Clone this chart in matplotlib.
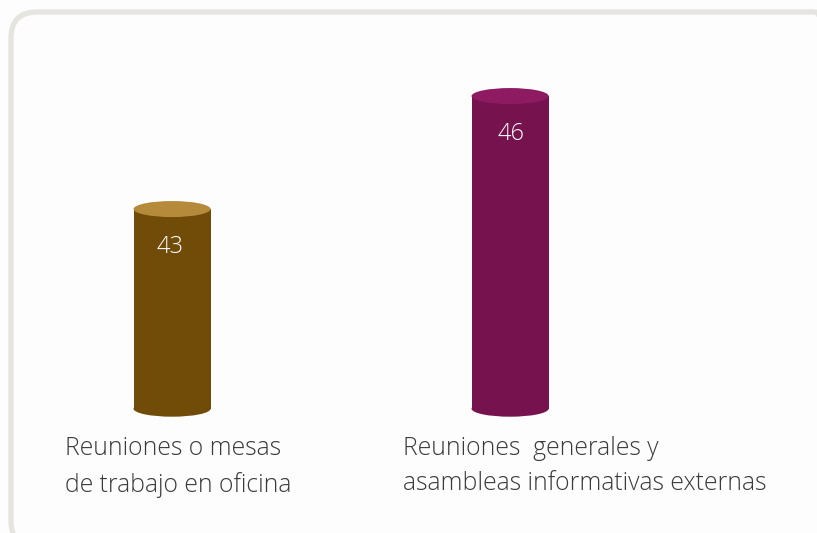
import matplotlib
matplotlib.use("Agg")
import matplotlib.pyplot as plt
from matplotlib.patches import Rectangle, Ellipse, FancyBboxPatch

categorias = ["Reuniones o mesas\nde trabajo en oficina",
              "Reuniones  generales y\nasambleas informativas externas"]
valores = [43, 46]
color_cuerpo = ["#714b08", "#76134f"]
color_tapa = ["#b58a3a", "#8e1b62"]

plt.rcParams['font.family'] = ['Open Sans', 'DejaVu Sans']

fig = plt.figure(figsize=(8.17, 5.33), dpi=100)
fig.patch.set_facecolor("#fdfdfd")

ax = fig.add_axes([0, 0, 1, 1])
ax.set_facecolor("none")
ax.set_xlim(-0.509, 1.908)
ax.set_ylim(34.40, 48.55)
ax.axis('off')

# marco redondeado (en pixeles)
marco = FancyBboxPatch((11, -14), 830, 535, boxstyle="round,pad=0,rounding_size=26",
                       transform=None, facecolor="none", edgecolor="#e5e4e0",
                       linewidth=3.8, zorder=1)
ax.add_artist(marco)

base = 37.70
ancho = 0.228
alto_elipse = 0.425

for i, v in enumerate(valores):
    ax.add_patch(Ellipse((i, base), ancho, alto_elipse, facecolor=color_cuerpo[i],
                         edgecolor="none", zorder=2))
    ax.add_patch(Rectangle((i - ancho / 2, base), ancho, v - base,
                           facecolor=color_cuerpo[i], edgecolor="none", zorder=2))
    ax.add_patch(Ellipse((i, v), ancho, alto_elipse, facecolor=color_tapa[i],
                         edgecolor="none", zorder=3))
    ax.text(i - 0.006 + 0.008 * i, v - 1.0, str(v), color="white", fontsize=17,
            fontweight='light', ha='center', va='center', zorder=4)
    ax.text(i - 0.318, base - 0.72, categorias[i], color="#3a3a3a",
            fontsize=17.8, fontweight='light', ha='left', va='top',
            linespacing=1.55, zorder=4)

fig.savefig("out.png", dpi=100)
